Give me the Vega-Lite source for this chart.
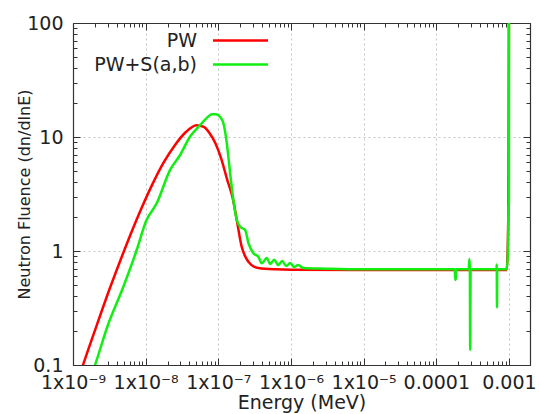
{
  "$schema": "https://vega.github.io/schema/vega-lite/v6.json",
  "width": 457,
  "height": 342,
  "autosize": "none",
  "padding": {"left": 73, "top": 23, "right": 9, "bottom": 49},
  "background": "white",
  "config": {
    "font": "DejaVu Sans",
    "view": {"stroke": "#333", "strokeWidth": 1},
    "axis": {
      "labelFont": "DejaVu Sans",
      "labelFontSize": 19,
      "labelColor": "#222",
      "titleFont": "DejaVu Sans",
      "titleFontWeight": "normal",
      "titleColor": "#222",
      "domainColor": "#333",
      "domainWidth": 1.2,
      "tickColor": "#333",
      "tickWidth": 1
    }
  },
  "datasets": {
    "d": [
      {"E": 1.2e-9, "flux": 0.077, "series": "PW"},
      {"E": 1.374e-9, "flux": 0.1, "series": "PW"},
      {"E": 2.0e-9, "flux": 0.2, "series": "PW"},
      {"E": 3.16e-9, "flux": 0.457, "series": "PW"},
      {"E": 4.47e-9, "flux": 0.822, "series": "PW"},
      {"E": 6.31e-9, "flux": 1.44, "series": "PW"},
      {"E": 8.91e-9, "flux": 2.43, "series": "PW"},
      {"E": 1.26e-8, "flux": 3.94, "series": "PW"},
      {"E": 1.78e-8, "flux": 6.01, "series": "PW"},
      {"E": 2.51e-8, "flux": 8.43, "series": "PW"},
      {"E": 3.55e-8, "flux": 11.0, "series": "PW"},
      {"E": 5.01e-8, "flux": 12.7, "series": "PW"},
      {"E": 6.31e-8, "flux": 12.25, "series": "PW"},
      {"E": 7.59e-8, "flux": 10.8, "series": "PW"},
      {"E": 9.12e-8, "flux": 8.81, "series": "PW"},
      {"E": 1.096e-7, "flux": 6.46, "series": "PW"},
      {"E": 1.318e-7, "flux": 4.27, "series": "PW"},
      {"E": 1.585e-7, "flux": 2.88, "series": "PW"},
      {"E": 1.82e-7, "flux": 1.78, "series": "PW"},
      {"E": 2.09e-7, "flux": 1.1, "series": "PW"},
      {"E": 2.4e-7, "flux": 0.87, "series": "PW"},
      {"E": 2.82e-7, "flux": 0.76, "series": "PW"},
      {"E": 3.55e-7, "flux": 0.71, "series": "PW"},
      {"E": 6.31e-7, "flux": 0.69, "series": "PW"},
      {"E": 1e-6, "flux": 0.685, "series": "PW"},
      {"E": 1e-5, "flux": 0.68, "series": "PW"},
      {"E": 1e-4, "flux": 0.68, "series": "PW"},
      {"E": 9.3e-4, "flux": 0.68, "series": "PW"},
      {"E": 9.85e-4, "flux": 2.4, "series": "PW"},
      {"E": 1.001e-3, "flux": 150, "series": "PW"},
      {"E": 1.8e-9, "flux": 0.082, "series": "PW+S(a,b)"},
      {"E": 2.01e-9, "flux": 0.1, "series": "PW+S(a,b)"},
      {"E": 3.0e-9, "flux": 0.221, "series": "PW+S(a,b)"},
      {"E": 4.93e-9, "flux": 0.486, "series": "PW+S(a,b)"},
      {"E": 7.53e-9, "flux": 1.02, "series": "PW+S(a,b)"},
      {"E": 1.02e-8, "flux": 1.85, "series": "PW+S(a,b)"},
      {"E": 1.42e-8, "flux": 2.62, "series": "PW+S(a,b)"},
      {"E": 2.17e-8, "flux": 5.14, "series": "PW+S(a,b)"},
      {"E": 2.98e-8, "flux": 6.95, "series": "PW+S(a,b)"},
      {"E": 4.09e-8, "flux": 10.1, "series": "PW+S(a,b)"},
      {"E": 5.61e-8, "flux": 12.7, "series": "PW+S(a,b)"},
      {"E": 7.0e-8, "flux": 14.8, "series": "PW+S(a,b)"},
      {"E": 8.13e-8, "flux": 15.8, "series": "PW+S(a,b)"},
      {"E": 9.2e-8, "flux": 15.8, "series": "PW+S(a,b)"},
      {"E": 1.0e-7, "flux": 15.5, "series": "PW+S(a,b)"},
      {"E": 1.1e-7, "flux": 14.5, "series": "PW+S(a,b)"},
      {"E": 1.175e-7, "flux": 13.2, "series": "PW+S(a,b)"},
      {"E": 1.31e-7, "flux": 8.8, "series": "PW+S(a,b)"},
      {"E": 1.455e-7, "flux": 4.8, "series": "PW+S(a,b)"},
      {"E": 1.61e-7, "flux": 2.8, "series": "PW+S(a,b)"},
      {"E": 1.8e-7, "flux": 1.87, "series": "PW+S(a,b)"},
      {"E": 2.0e-7, "flux": 1.63, "series": "PW+S(a,b)"},
      {"E": 2.34e-7, "flux": 1.53, "series": "PW+S(a,b)"},
      {"E": 2.6e-7, "flux": 1.17, "series": "PW+S(a,b)"},
      {"E": 3.04e-7, "flux": 0.955, "series": "PW+S(a,b)"},
      {"E": 3.56e-7, "flux": 0.89, "series": "PW+S(a,b)"},
      {"E": 3.97e-7, "flux": 0.78, "series": "PW+S(a,b)"},
      {"E": 4.65e-7, "flux": 0.87, "series": "PW+S(a,b)"},
      {"E": 5.17e-7, "flux": 0.77, "series": "PW+S(a,b)"},
      {"E": 5.87e-7, "flux": 0.84, "series": "PW+S(a,b)"},
      {"E": 6.67e-7, "flux": 0.753, "series": "PW+S(a,b)"},
      {"E": 7.57e-7, "flux": 0.817, "series": "PW+S(a,b)"},
      {"E": 8.6e-7, "flux": 0.738, "series": "PW+S(a,b)"},
      {"E": 9.76e-7, "flux": 0.785, "series": "PW+S(a,b)"},
      {"E": 1.107e-6, "flux": 0.724, "series": "PW+S(a,b)"},
      {"E": 1.257e-6, "flux": 0.754, "series": "PW+S(a,b)"},
      {"E": 1.47e-6, "flux": 0.71, "series": "PW+S(a,b)"},
      {"E": 3e-6, "flux": 0.7, "series": "PW+S(a,b)"},
      {"E": 1e-5, "flux": 0.69, "series": "PW+S(a,b)"},
      {"E": 1e-4, "flux": 0.69, "series": "PW+S(a,b)"},
      {"E": 1.8e-4, "flux": 0.69, "series": "PW+S(a,b)"},
      {"E": 1.82e-4, "flux": 0.56, "series": "PW+S(a,b)"},
      {"E": 1.86e-4, "flux": 0.56, "series": "PW+S(a,b)"},
      {"E": 1.88e-4, "flux": 0.69, "series": "PW+S(a,b)"},
      {"E": 2.8e-4, "flux": 0.69, "series": "PW+S(a,b)"},
      {"E": 2.86e-4, "flux": 0.85, "series": "PW+S(a,b)"},
      {"E": 2.9e-4, "flux": 0.69, "series": "PW+S(a,b)"},
      {"E": 2.93e-4, "flux": 0.136, "series": "PW+S(a,b)"},
      {"E": 2.97e-4, "flux": 0.69, "series": "PW+S(a,b)"},
      {"E": 6.75e-4, "flux": 0.69, "series": "PW+S(a,b)"},
      {"E": 6.8e-4, "flux": 0.76, "series": "PW+S(a,b)"},
      {"E": 6.85e-4, "flux": 0.32, "series": "PW+S(a,b)"},
      {"E": 6.9e-4, "flux": 0.69, "series": "PW+S(a,b)"},
      {"E": 9.3e-4, "flux": 0.69, "series": "PW+S(a,b)"},
      {"E": 9.7e-4, "flux": 1.0, "series": "PW+S(a,b)"},
      {"E": 9.85e-4, "flux": 2.4, "series": "PW+S(a,b)"},
      {"E": 1.0e-3, "flux": 2.6, "series": "PW+S(a,b)"},
      {"E": 1.002e-3, "flux": 150, "series": "PW+S(a,b)"}
    ]
  },
  "data": {"name": "d"},
  "layer": [
    {
      "mark": {"type": "line", "strokeWidth": 2.5, "clip": true, "interpolate": "monotone"},
      "encoding": {
        "x": {
          "field": "E", "type": "quantitative",
          "scale": {"type": "log", "domain": [1e-9, 0.00195], "nice": false},
          "axis": {
            "orient": "bottom",
            "title": "Energy (MeV)",
            "titleFontSize": 19,
            "titlePadding": -2,
            "values": [1e-9,2e-9,3e-9,4e-9,5e-9,6e-9,7e-9,8e-9,9e-9,1e-8,2e-8,3e-8,4e-8,5e-8,6e-8,7e-8,8e-8,9e-8,1e-7,2e-7,3e-7,4e-7,5e-7,6e-7,7e-7,8e-7,9e-7,1e-6,2e-6,3e-6,4e-6,5e-6,6e-6,7e-6,8e-6,9e-6,1e-5,2e-5,3e-5,4e-5,5e-5,6e-5,7e-5,8e-5,9e-5,1e-4,2e-4,3e-4,4e-4,5e-4,6e-4,7e-4,8e-4,9e-4,1e-3],
            "labelExpr": "abs(log(datum.value)/LN10-round(log(datum.value)/LN10))>0.01 ? '' : round(log(datum.value)/LN10)==-9 ? '1x10⁻⁹' : round(log(datum.value)/LN10)==-8 ? '1x10⁻⁸' : round(log(datum.value)/LN10)==-7 ? '1x10⁻⁷' : round(log(datum.value)/LN10)==-6 ? '1x10⁻⁶' : round(log(datum.value)/LN10)==-5 ? '1x10⁻⁵' : round(log(datum.value)/LN10)==-4 ? '0.0001' : '0.001'",
            "labelFlush": false,
            "labelOverlap": false,
            "labelPadding": 15,
            "grid": true,
            "gridColor": "#c4c4c4",
            "gridDash": [2, 3],
            "gridOpacity": {"condition": {"test": "abs(log(datum.value)/LN10-round(log(datum.value)/LN10))<0.01", "value": 1}, "value": 0},
            "tickSize": {"condition": {"test": "abs(log(datum.value)/LN10-round(log(datum.value)/LN10))<0.01", "value": -7}, "value": -4}
          }
        },
        "y": {
          "field": "flux", "type": "quantitative",
          "scale": {"type": "log", "domain": [0.1, 100], "nice": false},
          "axis": {
            "orient": "left",
            "title": "Neutron Fluence (dn/dlnE)",
            "titleFontSize": 16,
            "titlePadding": -6,
            "values": [0.1,0.2,0.3,0.4,0.5,0.6,0.7,0.8,0.9,1,2,3,4,5,6,7,8,9,10,20,30,40,50,60,70,80,90,100],
            "labelExpr": "abs(log(datum.value)/LN10-round(log(datum.value)/LN10))>0.01 ? '' : round(log(datum.value)/LN10)==-1 ? '0.1' : round(log(datum.value)/LN10)==0 ? '1' : round(log(datum.value)/LN10)==1 ? '10' : '100'",
            "labelOverlap": false,
            "labelFlush": false,
            "labelPadding": 17,
            "grid": true,
            "gridColor": "#c4c4c4",
            "gridDash": [2, 3],
            "gridOpacity": {"condition": {"test": "abs(log(datum.value)/LN10-round(log(datum.value)/LN10))<0.01", "value": 1}, "value": 0},
            "tickSize": {"condition": {"test": "abs(log(datum.value)/LN10-round(log(datum.value)/LN10))<0.01", "value": -7}, "value": -4}
          }
        },
        "color": {
          "field": "series", "type": "nominal",
          "scale": {"domain": ["PW", "PW+S(a,b)"], "range": ["#ff0000", "#11ee11"]},
          "legend": {
            "orient": "none",
            "legendX": 155,
            "legendY": 5,
            "title": null,
            "symbolType": "M-2.5,0H2.5",
            "symbolSize": 484,
            "symbolStrokeWidth": 2.5,
            "symbolFillColor": "transparent",
            "labelFont": "DejaVu Sans",
            "labelFontSize": 19,
            "labelColor": "#222",
            "labelAlign": "right",
            "labelOffset": -56,
            "padding": 0,
            "rowPadding": 1
          }
        }
      }
    },
    {
      "mark": {"type": "line", "opacity": 0},
      "encoding": {
        "x": {
          "field": "E", "type": "quantitative",
          "axis": {
            "orient": "top", "title": null, "labels": false, "grid": false,
            "values": [1e-9,2e-9,3e-9,4e-9,5e-9,6e-9,7e-9,8e-9,9e-9,1e-8,2e-8,3e-8,4e-8,5e-8,6e-8,7e-8,8e-8,9e-8,1e-7,2e-7,3e-7,4e-7,5e-7,6e-7,7e-7,8e-7,9e-7,1e-6,2e-6,3e-6,4e-6,5e-6,6e-6,7e-6,8e-6,9e-6,1e-5,2e-5,3e-5,4e-5,5e-5,6e-5,7e-5,8e-5,9e-5,1e-4,2e-4,3e-4,4e-4,5e-4,6e-4,7e-4,8e-4,9e-4,1e-3],
            "tickSize": {"condition": {"test": "abs(log(datum.value)/LN10-round(log(datum.value)/LN10))<0.01", "value": -7}, "value": -4}
          }
        },
        "y": {
          "field": "flux", "type": "quantitative",
          "axis": {
            "orient": "right", "title": null, "labels": false, "grid": false,
            "values": [0.1,0.2,0.3,0.4,0.5,0.6,0.7,0.8,0.9,1,2,3,4,5,6,7,8,9,10,20,30,40,50,60,70,80,90,100],
            "tickSize": {"condition": {"test": "abs(log(datum.value)/LN10-round(log(datum.value)/LN10))<0.01", "value": -7}, "value": -4}
          }
        }
      }
    }
  ],
  "resolve": {"axis": {"x": "independent", "y": "independent"}}
}
